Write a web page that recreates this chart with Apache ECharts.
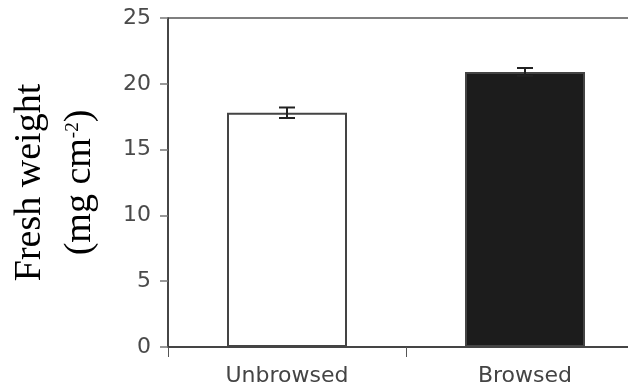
<!DOCTYPE html>
<html>
<head>
<meta charset="utf-8">
<script src="https://cdn.jsdelivr.net/npm/echarts@6/dist/echarts.min.js"></script>
<style>
  html, body { margin: 0; padding: 0; background: #fff; }
  #chart { width: 628px; height: 390px; }
</style>
</head>
<body>
<div id="chart"></div>
<script>
// data
const categories = ['Unbrowsed', 'Browsed']
const means = [17.8, 20.9]
const errors = [0.4, 0.3]
const barColors = ['#ffffff', '#1c1c1c']
const yTicks = [0, 25, 5] // min, max, interval

const chart = echarts.init(document.getElementById('chart'))

chart.setOption({
  animation: false,
  grid: {
    left: 168,
    top: 18,
    height: 329,
    width: 476, // runs past the right edge, like the original crop
    outerBoundsMode: 'none',
    show: true,
    borderColor: '#555',
    borderWidth: 1.5
  },
  xAxis: {
    type: 'category',
    data: categories,
    axisLine: { lineStyle: { color: '#333', width: 1.5 } },
    axisTick: { show: true, length: 10, lineStyle: { color: '#555', width: 1 } },
    axisLabel: {
      color: '#444',
      fontFamily: 'DejaVu Sans',
      fontSize: 22,
      margin: 18
    }
  },
  yAxis: {
    type: 'value',
    min: yTicks[0],
    max: yTicks[1],
    interval: yTicks[2],
    splitLine: { show: false },
    axisLine: { show: true, lineStyle: { color: '#333', width: 1.5 } },
    axisTick: { show: true, length: 8, lineStyle: { color: '#777', width: 1.5 } },
    axisLabel: {
      color: '#4a4a4a',
      fontFamily: 'DejaVu Sans',
      fontSize: 22,
      margin: 17
    },
    name: '{a|Fresh weight}\n{a|(mg cm}{s|-2}{a|)}',
    nameLocation: 'middle',
    nameGap: 63,
    nameTextStyle: {
      rich: {
        a: {
          fontFamily: 'Liberation Serif',
          fontSize: 38,
          lineHeight: 50,
          color: '#000'
        },
        s: {
          fontFamily: 'Liberation Serif',
          fontSize: 19,
          lineHeight: 50,
          verticalAlign: 'top',
          color: '#000',
          padding: [9, 0, 0, 0]
        }
      }
    }
  },
  series: [
    {
      type: 'bar',
      barWidth: 120,
      data: means.map((v, i) => ({
        value: v,
        itemStyle: {
          color: barColors[i],
          borderColor: '#444',
          borderWidth: 2
        }
      }))
    },
    {
      type: 'custom',
      z: 5,
      data: means.map((v, i) => [i, v - errors[i], v + errors[i]]),
      renderItem: function(params, api) {
        const lo = api.coord([api.value(0), api.value(1)])
        const hi = api.coord([api.value(0), api.value(2)])
        const half = 8
        const style = { stroke: '#222', lineWidth: 2 }
        return {
          type: 'group',
          children: [
            { type: 'line', shape: { x1: hi[0], y1: hi[1], x2: lo[0], y2: lo[1] }, style: style },
            { type: 'line', shape: { x1: hi[0] - half, y1: hi[1], x2: hi[0] + half, y2: hi[1] }, style: style },
            { type: 'line', shape: { x1: lo[0] - half, y1: lo[1], x2: lo[0] + half, y2: lo[1] }, style: style }
          ]
        }
      }
    }
  ]
})
</script>
</body>
</html>
